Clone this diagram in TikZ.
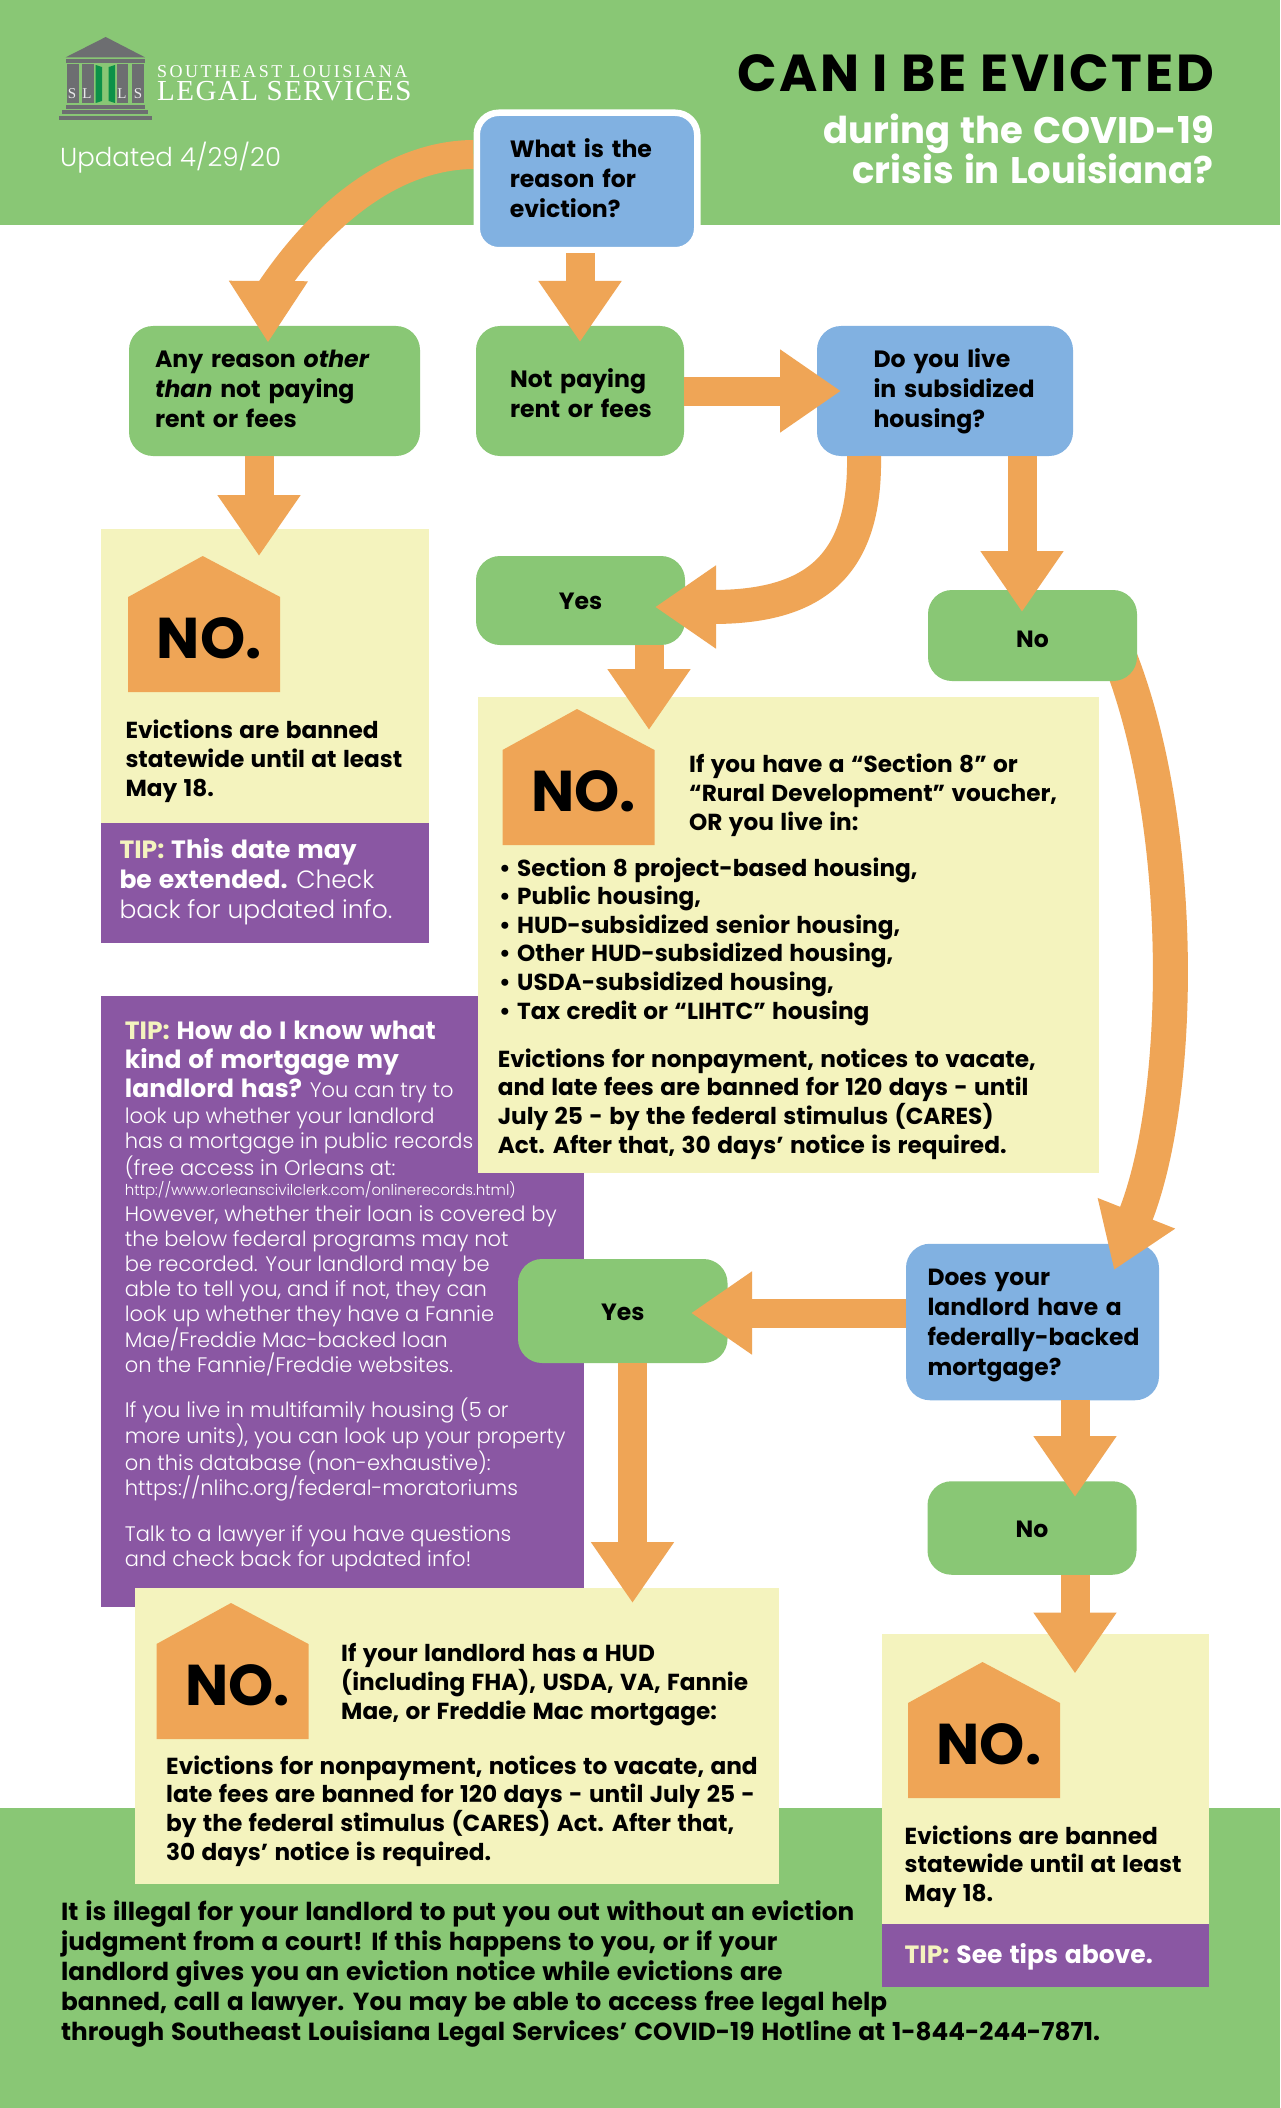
\documentclass[tikz,border=0pt]{standalone}
\usepackage{fontspec}
\setmainfont{Poppins}[BoldFeatures={WordSpace=1.3},BoldItalicFeatures={WordSpace=1.3}]
\newfontfamily\lightfont{Poppins Light}
\newfontfamily\logofonta[LetterSpace=14]{Liberation Serif}
\newfontfamily\logofontb[LetterSpace=5]{Liberation Serif}
\newfontfamily\titlefont[LetterSpace=5]{Poppins Bold}
\newcommand{\tipbody}{\mdseries\lightfont}
\usetikzlibrary{arrows.meta}
\definecolor{bandgreen}{HTML}{89C775}
\definecolor{askblue}{HTML}{81B1E1}
\definecolor{flowc}{HTML}{EFA556}
\definecolor{paleyellow}{HTML}{F4F3BE}
\definecolor{tippurple}{HTML}{8A57A3}
\definecolor{logogray}{HTML}{6D6E71}
\definecolor{doorgreen}{HTML}{0C9148}
\pgfdeclarelayer{base}
\pgfdeclarelayer{under}
\pgfdeclarelayer{over}
\pgfsetlayers{base,under,main,over}
\tikzset{
    flowbox/.style args={#1 by #2 pad #3}{rectangle, rounded corners=24pt, inner ysep=0pt, outer sep=0pt, align=left,
        minimum width=#1pt, minimum height=#2pt, inner xsep=#3pt, text width={#1pt-2*#3pt}, font=\fontsize{23.6}{30}\selectfont\bfseries},
    lines/.style args={#1 and #2}{execute at begin node={\rule{0pt}{#1pt}}, execute at end node={\rule[-#2pt]{0pt}{#2pt}}},
    greenbox/.style={flowbox=#1, fill=bandgreen},
    bluebox/.style={flowbox=#1, fill=askblue},
    answer/.style args={#1 by #2 up #3}{rectangle, rounded corners=24pt, inner sep=0pt, outer sep=0pt, fill=bandgreen,
        minimum width=#1pt, minimum height=#2pt, text height=#3pt, text depth=0pt, font=\fontsize{23.5}{28}\selectfont\bfseries},
    panel/.style args={#1 by #2}{rectangle, inner sep=0pt, outer sep=0pt, minimum width=#1pt, minimum height=#2pt},
    para/.style={anchor=base west, inner sep=0pt, align=left, font=\fontsize{23.2}{28.6}\selectfont\bfseries},
    tiptext/.style={anchor=base west, inner sep=0pt, align=left, text=white, font=\fontsize{25}{30}\selectfont\bfseries},
    flow/.style={draw=flowc, line width=#1pt, -{Triangle[length=61pt,width=79pt]}},
    flow/.default=29,
    headonly/.style={draw=flowc, line width=1pt, -{Triangle[length=61pt,width=79pt]}},
    shaft/.style={draw=flowc, line width=29pt},
    pics/nohouse/.style={code={
        \fill[flowc] (0,0) -- (77.5,41) -- (77.5,136) -- (-74.5,136) -- (-74.5,41) -- cycle;
        \node[anchor=base, inner sep=0pt, font=\fontsize{57.5}{57.5}\selectfont\bfseries] (-sign) at (6.5,102) {NO.};
    }},
}
\begin{document}
\begin{tikzpicture}[x=1pt,y=-1pt]
    \useasboundingbox (0,0) rectangle (1280,2108);

    \begin{pgfonlayer}{base}
    \fill[white] (0,0) rectangle (1280,2108);
    \fill[bandgreen] (0,0) rectangle (1280,225);
    \fill[bandgreen] (0,1808) rectangle (1280,2108);

    \node[panel=483 by 611.5, fill=tippurple] (tipb) at (342.2,1301.25) {};
    \node[panel=327.4 by 294, fill=paleyellow] (noa) at (265,676) {};
    \node[panel=328 by 120, fill=tippurple] (tipa) at (264.6,883) {};
    \node[panel=621 by 476.5, fill=paleyellow] (nob) at (788.5,934.75) {};
    \node[panel=644.4 by 296, fill=paleyellow] (noc) at (456.8,1736) {};
    \node[panel=327 by 290, fill=paleyellow] (nod) at (1045,1779) {};
    \node[panel=327.5 by 63, fill=tippurple] (tipd) at (1045.25,1955.5) {};

    \pic (housea) at (202.7,556) {nohouse};
    \pic (houseb) at (577,709) {nohouse};
    \pic (housec) at (231,1603) {nohouse};
    \pic (housed) at (982.5,1662) {nohouse};

    \fill[logogray] (105.7,37) -- (145,57.3) -- (65.7,57.3) -- cycle;
    \fill[logogray] (66,58.7) rectangle (145,62.7);
    \foreach \xa/\xb in {66.7/78.7,82.3/94.3,116.7/128.3,131.7/143.7}
        \fill[logogray] (\xa,64) rectangle (\xb,103);
    \fill[doorgreen] (95.7,65) -- (102,67) -- (102,101) -- (95.7,103) -- cycle;
    \fill[doorgreen] (115,65) -- (108.7,67) -- (108.7,101) -- (115,103) -- cycle;
    \fill[logogray] (65.7,104.7) rectangle (145,108.7);
    \fill[logogray] (62.3,110.3) rectangle (148.3,114.3);
    \fill[logogray] (59.3,115.7) rectangle (152,119.7);
    \foreach \xa/\ltr in {72/S,87/L,122/L,138/S}
        \node[anchor=base, inner sep=0pt, text=white!85!logogray, font=\fontsize{15}{15}\selectfont\logofonta] (logo\xa) at (\xa,99) {\ltr};
    \end{pgfonlayer}

    \node[anchor=base west, inner sep=0pt, text=white, font=\fontsize{18}{18}\selectfont\logofonta] (logotop) at (157,78) {SOUTHEAST LOUISIANA};
    \node[anchor=base west, inner sep=0pt, text=white, font=\fontsize{29}{29}\selectfont\logofontb] (logobot) at (157,101) {LEGAL SERVICES};
    \node[anchor=base west, inner sep=0pt, text=white, font=\fontsize{26}{26}\selectfont\lightfont] (updated) at (60,166.7) {Updated 4/29/20};
    \node[anchor=base east, inner sep=0pt, font=\fontsize{52}{52}\selectfont\titlefont] (titlea) at (1214,91.7) {CAN I BE EVICTED};
    \node[anchor=base east, inner sep=0pt, text=white, font=\fontsize{37}{40}\selectfont\bfseries] (titleb) at (1214,144) {during the COVID-19};
    \node[anchor=base east, inner sep=0pt, text=white, font=\fontsize{37}{40}\selectfont\bfseries] (titlec) at (1214,184) {crisis in Louisiana?};

    \node[flowbox=220.5 by 137.5 pad 33, lines=20 and 7, draw=white, line width=6.5pt, fill=askblue, rounded corners=22pt, outer sep=3.25pt] (why) at (587,181.5) {What~is~the\\ reason~for\\ eviction?};
    \node[greenbox=291 by 130 pad 26, lines=20 and 8] (anyreason) at (274.5,391) {Any~reason~\textit{other}\\ \textit{than}~not~paying\\ rent~or~fees};
    \node[greenbox=208 by 130 pad 34, lines=24 and 2] (notpaying) at (580,391) {Not~paying\\ rent~or~fees};
    \node[bluebox=256 by 130 pad 56.5, lines=20 and 8] (subsidized) at (945,391) {Do~you~live\\ \mbox{in~subsidized}\\ \mbox{housing?}};
    \node[answer=209 by 89 up 17] (yesa) at (580.5,600.5) {Yes};
    \node[answer=209 by 91 up 23] (noone) at (1032.5,635.5) {No};
    \node[answer=209.5 by 104 up 18] (yesb) at (622.75,1311) {Yes};
    \node[answer=209 by 93.5 up 18] (notwo) at (1032,1528) {No};

    \coordinate (tipany) at (268,342);
    \coordinate (baseany) at (268.5,281);
    \coordinate (bendany) at (264,300);
    \coordinate (tipnot) at (580,342);
    \coordinate (tipsub) at (841,391);
    \coordinate (tipnoa) at (259,556);
    \coordinate (tipyesa) at (655,607);
    \coordinate (tipnoone) at (1022,612);
    \coordinate (tipnob) at (649,730);
    \coordinate (tipdoes) at (1114,1270);
    \coordinate (tipyesb) at (691,1313);
    \coordinate (tipnotwo) at (1075,1497);
    \coordinate (tipnoc) at (632.5,1603);
    \coordinate (tipnod) at (1075,1673.5);

    \begin{pgfonlayer}{under}
    \draw[shaft] ([yshift=27pt]why.west) .. controls (400,155) and (325,205) .. (bendany);
    \node[bluebox=253 by 156.5 pad 21.5, lines=24 and 4, font=\fontsize{23.4}{30}\selectfont\bfseries] (does) at (1032.5,1322) {Does~your\\ landlord~have~a\\ \mbox{federally-backed}\\ mortgage?};
    \draw[flow=35] ([xshift=84pt,yshift=-14pt]noone.center) .. controls (1186,818) and (1184,1093) .. (tipdoes);
    \end{pgfonlayer}

    \begin{pgfonlayer}{over}
    \draw[headonly] ([yshift=11pt]baseany) -- (tipany);
    \draw[flow] (tipnot |- why.south) -- (tipnot);
    \draw[flow] (notpaying.east) -- (tipsub);
    \draw[flow] (tipnoa |- anyreason.south) -- (tipnoa);
    \draw[flow=34] ([xshift=-81pt]subsidized.south) .. controls (866,570) and (810,607) .. (tipyesa);
    \draw[flow] (tipnoone |- subsidized.south) -- (tipnoone);
    \draw[flow] (tipnob |- yesa.south) -- (tipnob);
    \draw[flow] (does.west |- tipyesb) -- (tipyesb);
    \draw[flow] (tipnoc |- yesb.south) -- (tipnoc);
    \draw[flow] (tipnotwo |- does.south) -- (tipnotwo);
    \draw[flow] (tipnod |- notwo.south) -- (tipnod);
    \end{pgfonlayer}

    \node[para] (textnoa) at (125.3,796) {Evictions are banned\\ statewide until at least\\ May 18.};
    \node[tiptext] (texttipa) at (119.3,918.3) {{\color{paleyellow}TIP:} This date may\\ be extended. \tipbody Check\\ \tipbody back for updated info.};
    \node[para] (textnob) at (689,830) {If you have a “Section 8” or\\ “Rural Development” voucher,\\ OR you live in:};
    \node[para] (listnob) at (499,1019) {•\ Section 8 project-based housing,\\ •\ Public housing,\\ •\ HUD-subsidized senior housing,\\ •\ Other HUD-subsidized housing,\\ •\ USDA-subsidized housing,\\ •\ Tax credit or “LIHTC” housing};
    \node[para] (banb) at (497.6,1153) {Evictions for nonpayment, notices to vacate,\\ and late fees are banned for 120 days - until\\ July 25 - by the federal stimulus (CARES)\\ Act. After that, 30 days’ notice is required.};
    \node[anchor=base west, inner sep=0pt, align=left, text=white, font=\fontsize{21}{25}\selectfont\lightfont] (texttipb) at (124.7,1566) {{\fontsize{25}{30}\selectfont\normalfont\bfseries{\color{paleyellow}TIP:} How do I know what}\\[3.5pt]
        {\fontsize{25}{30}\selectfont\normalfont\bfseries kind of mortgage my}\\[3pt]
        {\fontsize{25}{30}\selectfont\normalfont\bfseries landlord has?} You can try to\\[1pt]
        look up whether your landlord\\
        has a mortgage in public records\\
        (free access in Orleans at:\\[-5pt]
        {\fontsize{15}{20}\selectfont http://www.orleanscivilclerk.com/onlinerecords.html)}\\[1.5pt]
        However, whether their loan is covered by\\
        the below federal programs may not\\
        be recorded. Your landlord may be\\
        able to tell you, and if not, they can\\
        look up whether they have a Fannie\\
        Mae/Freddie Mac-backed loan\\
        on the Fannie/Freddie websites.\\[20pt]
        If you live in multifamily housing (5 or\\
        more units), you can look up your property\\
        on this database (non-exhaustive):\\
        https://nlihc.org/federal-moratoriums\\[21pt]
        Talk to a lawyer if you have questions\\
        and check back for updated info!};
    \node[para] (textnoc) at (341,1719) {If your landlord has a HUD\\ (including FHA), USDA, VA, Fannie\\ Mae, or Freddie Mac mortgage:};
    \node[para] (banc) at (166,1860) {Evictions for nonpayment, notices to vacate, and\\ late fees are banned for 120 days - until July 25 -\\ by the federal stimulus (CARES) Act. After that,\\ 30 days’ notice is required.};
    \node[para] (textnod) at (904.5,1901.5) {Evictions are banned\\ statewide until at least\\ May 18.};
    \node[tiptext] (texttipd) at (904.5,1963) {{\color{paleyellow}TIP:} See tips above.};
    \node[para, font=\fontsize{24.7}{30}\selectfont\bfseries] (footer) at (61,2040.7) {It is illegal for your landlord to put you out without an eviction\\ judgment from a court! If this happens to you, or if your\\ landlord gives you an eviction notice while evictions are\\ banned, call a lawyer. You may be able to access free legal help\\ through Southeast Louisiana Legal Services’ COVID-19 Hotline at 1-844-244-7871.};
\end{tikzpicture}
\end{document}
